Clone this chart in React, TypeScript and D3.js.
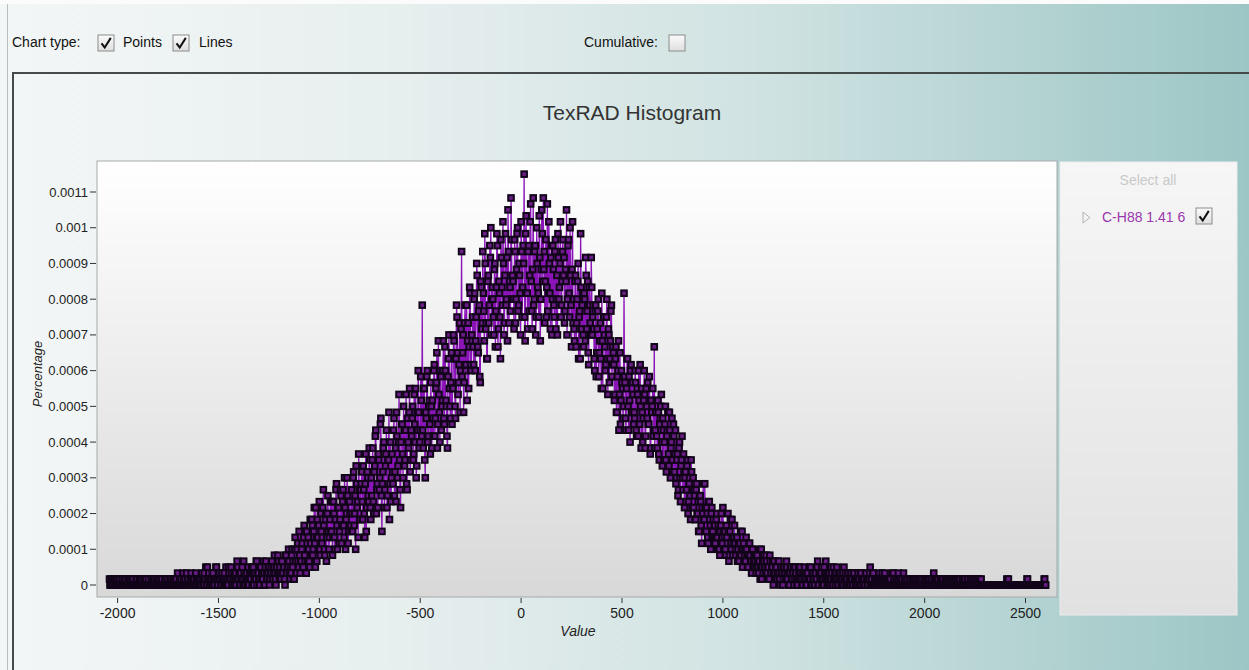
import * as d3 from 'd3';
import React, { useRef, useEffect } from 'react';

const WIDTH = 1249;
const HEIGHT = 670;

// histogram bins: centre of the first bin and spacing, in "Value" units.
// Two interleaved sets of bins: the second one is shifted by half a step.
const BIN_START = -2040;
const BIN_STEP = 5;
// the histogram is stored as counts; percentage = count / TOTAL_COUNT
const TOTAL_COUNT = 60000;

// ---- bins at -2040, -2035, ... ----
// -2040 .. -1545
const countsA = [
  1,0,0,1,0,1,1,0,0,0, 1,0,0,0,0,0,1,0,0,1, 0,0,1,0,0,0,0,1,0,0, 0,1,0,0,0,0,1,0,0,0,
  0,0,0,1,0,0,0,0,1,0, 0,0,1,0,0,1,0,0,0,0, 1,0,0,0,0,1,1,0,0,0, 0,1,0,2,0,1,0,0,1,0,
  0,2,1,0,1,0,0,1,0,1, 1,0,1,0,2,1,0,3,1,0,
];
// -1540 .. -1045
const countsB = [
  0,1,2,1,0,1,3,0,1,2, 1,0,1,1,2,0,0,1,3,1, 1,2,0,1,0,2,1,3,1,0, 2,1,1,4,0,1,2,1,0,2,
  1,3,2,0,2,1,4,2,1,0, 3,2,1,2,0,4,1,2,3,1, 2,4,1,3,2,0,3,5,2,3, 1,4,2,3,0,5,2,3,4,1,
  2,6,4,1,8,2,6,4,9,2, 4,7,3,10,4,2,7,8,4,11,
];
// -1040 .. -545
const countsC = [
  5,10,6,13,3,8,11,6,14,5, 9,8,16,6,11,4,12,9,8,14, 9,5,14,8,11,17,6,13,9,16, 7,14,10,18,6,12,15,9,14,10,
  16,9,19,12,6,17,14,22,11,16, 19,11,16,8,22,13,18,14,21,11, 15,23,12,20,26,16,13,21,18,28, 9,19,24,16,22,13,21,29,17,14,
  22,17,28,19,14,25,20,32,16,24, 27,18,26,21,32,16,24,29,19,26,
];
// -540 .. -45
const countsD = [
  28,21,32,24,18,29,36,23,26,31, 47,23,33,18,28,36,25,31,22,30, 31,25,37,28,34,23,41,29,36,26, 31,41,27,36,30,23,38,33,28,39,
  33,42,38,28,47,39,34,44,36,56, 39,29,44,36,47,41,33,50,37,42, 45,37,49,41,54,40,46,35,51,43, 56,46,59,43,38,51,44,57,60,48,
  48,42,54,46,59,40,51,45,58,50, 61,42,52,47,55,63,44,50,65,48,
];
// -40 .. 455
const countsE = [
  51,43,56,48,59,46,54,49,61,45, 57,69,41,62,49,56,46,61,51,43, 65,48,57,45,54,49,62,41,53,59, 65,56,51,45,64,49,54,43,57,48,
  53,45,58,48,42,55,50,61,47,56, 52,44,53,63,48,58,45,52,40,61, 48,41,52,44,51,38,46,59,43,49, 40,48,55,43,51,37,47,42,50,45,
  43,36,47,39,46,35,41,38,49,33, 45,40,37,48,32,42,38,46,35,40,
];
// 460 .. 955
const countsF = [
  37,32,40,29,36,26,39,31,34,28, 49,34,26,38,30,35,24,37,29,32, 29,36,26,33,25,31,37,23,29,28, 36,23,33,28,27,35,22,31,30,25,
  40,26,31,23,29,21,28,32,20,26, 24,30,19,26,22,29,18,24,21,27, 19,26,18,22,16,24,14,21,18,22, 13,19,16,21,14,18,11,19,16,13,
  15,11,17,12,9,15,14,7,12,11, 17,9,13,8,14,11,6,13,9,8,
];
// 960 .. 1455
const countsG = [
  10,8,12,6,9,5,10,8,13,6, 9,5,8,12,4,9,7,11,5,8, 7,5,8,6,4,7,5,9,6,4, 6,8,5,3,7,5,4,6,3,5,
  4,2,5,3,4,1,6,3,2,4, 3,5,2,3,1,4,2,3,0,4, 2,3,1,4,2,0,3,2,1,3, 2,4,1,2,0,3,1,2,3,1,
  2,1,0,3,1,2,1,0,2,3, 1,0,2,1,1,3,0,2,1,0,
];
// 1460 .. 1955
const countsH = [
  2,1,4,0,2,1,3,1,0,2, 4,1,2,0,1,3,2,0,1,2, 1,3,0,2,1,1,0,2,3,1, 0,1,2,0,1,2,1,0,2,1,
  0,1,2,1,0,2,0,1,1,0, 2,1,0,1,3,1,0,2,0,1, 0,1,0,2,1,0,2,1,0,1, 0,0,1,0,1,0,0,2,1,0,
  1,0,2,0,1,0,0,2,1,0, 0,1,0,0,1,0,1,0,1,0,
];
// 1960 .. 2600
const countsI = [
  1,0,0,1,0,1,0,0,1,0, 0,1,0,0,0,1,0,2,0,1, 0,1,0,0,1,0,1,0,0,1, 0,1,0,1,0,0,1,0,1,0,
  0,1,0,1,0,0,1,0,1,0, 0,1,0,0,1,0,1,0,0,1, 0,1,0,0,1,0,0,0,0,0, 0,0,0,0,0,0,0,0,0,0,
  0,0,0,0,0,0,0,0,0,0, 0,1,0,0,0,0,0,0,0,0, 0,0,0,0,0,0,0,0,0,0, 1,0,0,0,0,0,0,0,0,0,
  0,0,0,0,0,0,0,1,0,
];

// ---- bins at -2037.5, -2032.5, ... ----
// -2037.5 .. -1542.5
const countsA2 = [
  0,1,0,0,1,0,0,1,0,1, 0,0,1,0,1,0,0,0,1,0, 1,0,0,1,0,0,1,0,0,1, 0,0,1,0,1,0,0,0,1,0,
  0,1,0,0,1,0,1,0,0,1, 0,1,0,0,0,1,0,1,0,0, 0,1,0,1,0,0,0,2,0,1, 1,0,0,1,0,0,2,1,0,0,
  1,0,1,0,0,2,1,0,1,0, 0,2,1,0,1,3,0,1,2,1,
];
// -1537.5 .. -1042.5
const countsB2 = [
  1,0,2,0,1,3,1,0,2,1, 0,2,1,0,1,3,1,0,2,1, 3,0,1,2,1,0,4,1,2,0, 1,3,0,2,1,2,0,3,1,1,
  2,0,3,1,2,4,0,2,1,3, 1,2,4,0,3,2,1,3,0,2, 3,1,2,5,1,3,2,4,1,2, 4,2,3,1,5,2,3,6,2,3,
  5,3,1,6,4,2,7,3,5,4, 6,3,8,5,2,9,4,6,3,7,
];
// -1037.5 .. -542.5
const countsC2 = [
  11,5,9,7,13,4,8,10,6,12, 7,13,10,5,12,8,15,6,11,9, 14,8,12,6,16,10,13,7,11,15, 10,16,8,13,11,18,7,14,12,9,
  12,18,10,15,20,13,8,16,11,17, 14,20,12,17,9,19,15,23,13,18, 21,14,19,25,12,17,22,16,27,15, 17,23,13,20,26,15,21,11,24,18,
  19,26,15,23,29,18,24,21,13,27, 22,30,20,26,17,28,23,33,21,25,
];
// -537.5 .. -42.5
const countsD2 = [
  30,22,27,33,20,26,29,24,35,25, 26,33,21,29,35,24,30,27,34,23, 28,36,25,33,39,27,32,24,35,30, 36,28,40,31,25,35,42,30,34,27,
  33,41,30,38,45,32,37,29,43,35, 42,34,47,37,31,44,40,49,36,41, 40,48,36,45,52,39,47,34,50,44, 49,41,54,44,38,52,47,55,42,50,
  45,53,40,50,57,43,49,38,55,47, 54,44,59,48,41,56,51,46,58,52,
];
// -37.5 .. 457.5
const countsE2 = [
  48,58,44,53,60,47,52,42,56,50, 54,45,59,49,43,57,52,64,46,53, 47,56,42,60,50,45,55,48,63,51, 53,44,58,50,46,61,49,55,42,57,
  47,56,43,52,59,48,54,45,51,58, 55,46,51,42,57,49,60,47,53,44, 43,51,40,48,54,45,38,50,47,42, 49,41,52,46,39,50,44,55,42,47,
  38,46,35,43,48,39,44,33,41,45, 42,36,45,38,43,34,41,47,37,39,
];
// 462.5 .. 957.5
const countsF2 = [
  31,38,29,35,41,32,27,36,33,30, 35,28,33,38,26,31,36,29,34,27, 28,34,25,32,36,27,30,33,24,31, 32,25,30,34,27,31,23,29,33,26,
  23,29,25,31,22,27,30,24,28,21, 27,21,25,29,20,26,23,28,19,25, 22,17,21,15,23,18,20,25,16,19, 18,14,20,12,17,15,21,13,18,16,
  11,16,12,14,9,15,10,13,17,11, 13,9,12,7,14,10,12,8,11,10,
];
// 962.5 .. 1457.5
const countsG2 = [
  7,11,8,10,6,9,12,7,9,8, 6,10,7,9,5,11,6,8,7,10, 6,8,4,7,5,9,6,3,7,5, 4,6,3,5,7,4,2,6,4,3,
  5,3,4,2,6,3,1,4,5,3, 2,4,3,1,5,2,3,4,2,1, 3,1,2,4,1,3,2,0,3,2, 1,3,2,0,2,3,1,2,0,3,
  2,0,1,2,3,1,0,2,1,2, 0,2,1,3,1,0,2,1,0,2,
];
// 1462.5 .. 1957.5
const countsH2 = [
  1,3,0,2,1,2,0,1,3,1, 2,0,1,2,0,1,0,3,1,0, 2,1,0,1,2,0,1,0,1,2, 1,0,2,1,0,1,0,2,1,0,
  1,0,1,0,2,1,0,1,0,2, 1,0,1,2,0,1,2,0,1,0, 1,0,1,0,0,1,0,1,2,0, 1,0,0,1,0,2,0,1,0,0,
  0,1,0,1,0,1,0,0,1,0, 1,0,0,1,0,0,1,0,0,1,
];
// 1962.5 .. 2597.5
const countsI2 = [
  0,1,0,0,1,0,0,1,0,1, 0,0,1,0,1,0,0,1,0,0, 1,0,0,1,0,1,0,0,1,0, 1,0,0,0,1,0,0,1,0,1,
  0,0,1,0,0,1,0,1,0,0, 1,0,0,1,0,0,1,0,1,0, 0,0,1,0,0,0,0,0,0,0, 0,0,0,0,0,0,0,0,0,0,
  0,0,0,0,0,0,0,0,0,1, 0,0,0,0,0,0,0,0,0,0, 0,0,0,0,0,0,0,0,0,1, 0,0,0,0,0,0,0,0,0,0,
  0,0,0,0,0,0,1,0,
];

const xTicks = [-2000, -1500, -1000, -500, 0, 500, 1000, 1500, 2000, 2500];
const yTicks = [0, 0.0001, 0.0002, 0.0003, 0.0004, 0.0005, 0.0006, 0.0007, 0.0008, 0.0009, 0.001, 0.0011];
const yTickLabels = ['0', '0.0001', '0.0002', '0.0003', '0.0004', '0.0005', '0.0006', '0.0007', '0.0008', '0.0009', '0.001', '0.0011'];
const seriesName = 'C-H88 1.41 6';

const FONT = '"Liberation Sans", Arial, sans-serif';

function checkbox(g, x, y, size, checked) {
  const b = g.append('g').attr('transform', `translate(${x},${y})`);
  b.append('rect').attr('width', size).attr('height', size)
    .attr('fill', 'url(#boxBg)').attr('stroke', '#8c8c8c').attr('stroke-width', 1);
  if (checked) {
    b.append('path')
      .attr('d', `M${size * 0.22},${size * 0.52} L${size * 0.42},${size * 0.78} L${size * 0.8},${size * 0.18}`)
      .attr('fill', 'none').attr('stroke', '#111').attr('stroke-width', 2);
  }
}

function App() {
  const ref = useRef(null);

  useEffect(() => {
    const counts = [...countsA, ...countsB, ...countsC, ...countsD, ...countsE, ...countsF, ...countsG, ...countsH, ...countsI];
    const counts2 = [...countsA2, ...countsB2, ...countsC2, ...countsD2, ...countsE2, ...countsF2, ...countsG2, ...countsH2, ...countsI2];
    const data = [
      ...counts.map((c, i) => ({ x: BIN_START + i * BIN_STEP, y: c / TOTAL_COUNT })),
      ...counts2.map((c, i) => ({ x: BIN_START + BIN_STEP / 2 + i * BIN_STEP, y: c / TOTAL_COUNT })),
    ].sort((a, b) => a.x - b.x);

    const svg = d3.select(ref.current);
    svg.selectAll('*').remove();
    svg.attr('viewBox', [0, 0, WIDTH, HEIGHT]);

    const defs = svg.append('defs');
    const pageBg = defs.append('linearGradient').attr('id', 'pageBg')
      .attr('x1', 0).attr('x2', 1).attr('y1', 0).attr('y2', 0);
    [['0%', '#f3f6f6'], ['30%', '#e8efef'], ['60%', '#d0e3e2'], ['100%', '#9cc6c5']]
      .forEach(([o, c]) => pageBg.append('stop').attr('offset', o).attr('stop-color', c));
    const plotBg = defs.append('linearGradient').attr('id', 'plotBg')
      .attr('x1', 0).attr('x2', 0).attr('y1', 0).attr('y2', 1);
    [['0%', '#ffffff'], ['100%', '#d8d8d8']]
      .forEach(([o, c]) => plotBg.append('stop').attr('offset', o).attr('stop-color', c));
    const legendBg = defs.append('linearGradient').attr('id', 'legendBg')
      .attr('x1', 0).attr('x2', 0).attr('y1', 0).attr('y2', 1);
    [['0%', '#f6f6f6'], ['100%', '#e1e1e1']]
      .forEach(([o, c]) => legendBg.append('stop').attr('offset', o).attr('stop-color', c));
    const boxBg = defs.append('linearGradient').attr('id', 'boxBg')
      .attr('x1', 0).attr('x2', 0).attr('y1', 0).attr('y2', 1);
    [['0%', '#fbfbfb'], ['100%', '#dedede']]
      .forEach(([o, c]) => boxBg.append('stop').attr('offset', o).attr('stop-color', c));

    // page and frame
    svg.append('rect').attr('width', WIDTH).attr('height', HEIGHT).attr('fill', 'url(#pageBg)');
    svg.append('rect').attr('width', WIDTH).attr('height', 4).attr('fill', '#fbfbfb');
    svg.append('line').attr('x1', 7.5).attr('x2', 7.5).attr('y1', 4).attr('y2', HEIGHT)
      .attr('stroke', '#b9bdbd').attr('stroke-width', 1);
    svg.append('path').attr('d', `M13,${HEIGHT} V73 H${WIDTH}`)
      .attr('fill', 'none').attr('stroke', '#454b4b').attr('stroke-width', 2);

    // toolbar
    const bar = svg.append('g').attr('font-family', FONT).attr('font-size', 14).attr('fill', '#111');
    bar.append('text').attr('x', 12).attr('y', 47).text('Chart type:');
    checkbox(bar, 98, 35, 16, true);
    bar.append('text').attr('x', 123).attr('y', 47).text('Points');
    checkbox(bar, 173, 35, 16, true);
    bar.append('text').attr('x', 199).attr('y', 47).text('Lines');
    bar.append('text').attr('x', 584).attr('y', 47).text('Cumulative:');
    checkbox(bar, 669, 35, 16, false);

    // title
    svg.append('text').attr('x', 632).attr('y', 120).attr('text-anchor', 'middle')
      .attr('font-family', FONT).attr('font-size', 21).attr('fill', '#333').text('TexRAD Histogram');

    const plot = { left: 97, right: 1057, top: 161, bottom: 597 };
    const x = d3.scaleLinear().domain([-2102, 2656]).range([plot.left, plot.right]);
    const y = d3.scaleLinear().domain([0, 0.0011]).range([585, 192]);

    svg.append('rect').attr('x', plot.left).attr('y', plot.top)
      .attr('width', plot.right - plot.left).attr('height', plot.bottom - plot.top)
      .attr('fill', 'url(#plotBg)').attr('stroke', '#a7a9a9').attr('stroke-width', 1);

    // y axis
    const yAxis = svg.append('g').attr('font-family', FONT).attr('font-size', 13).attr('fill', '#222');
    yTicks.forEach((t, i) => {
      yAxis.append('line').attr('x1', 90).attr('x2', 96).attr('y1', y(t)).attr('y2', y(t))
        .attr('stroke', '#333').attr('stroke-width', 1);
      yAxis.append('text').attr('x', 88).attr('y', y(t)).attr('dy', '0.35em')
        .attr('text-anchor', 'end').text(yTickLabels[i]);
    });
    svg.append('text').attr('transform', 'translate(42,374) rotate(-90)')
      .attr('text-anchor', 'middle').attr('font-family', FONT).attr('font-size', 13)
      .attr('font-style', 'italic').attr('fill', '#222').text('Percentage');

    // x axis
    const xAxis = svg.append('g').attr('font-family', FONT).attr('font-size', 14).attr('fill', '#222');
    xTicks.forEach(t => {
      xAxis.append('line').attr('x1', x(t)).attr('x2', x(t)).attr('y1', plot.bottom + 1).attr('y2', plot.bottom + 6)
        .attr('stroke', '#333').attr('stroke-width', 1);
      xAxis.append('text').attr('x', x(t)).attr('y', 618).attr('text-anchor', 'middle').text(String(t));
    });
    svg.append('text').attr('x', 578).attr('y', 636).attr('text-anchor', 'middle')
      .attr('font-family', FONT).attr('font-size', 14).attr('font-style', 'italic')
      .attr('fill', '#222').text('Value');

    // series: lines then points
    const line = d3.line().x(d => x(d.x)).y(d => y(d.y));
    svg.append('path').datum(data).attr('d', line)
      .attr('fill', 'none').attr('stroke', '#8a14b8').attr('stroke-width', 1.3)
      .attr('stroke-linejoin', 'round');

    const sq = 5.6;
    svg.append('g')
      .attr('fill', '#6a1d86').attr('stroke', '#12051a').attr('stroke-width', 2)
      .selectAll('rect')
      .data(data)
      .join('rect')
      .attr('x', d => x(d.x) - sq / 2)
      .attr('y', d => y(d.y) - sq / 2)
      .attr('width', sq)
      .attr('height', sq);

    // legend panel
    const legend = svg.append('g').attr('font-family', FONT).attr('font-size', 14);
    legend.append('rect').attr('x', 1060).attr('y', 162).attr('width', 177).attr('height', 453)
      .attr('fill', 'url(#legendBg)').attr('stroke', '#ebebeb').attr('stroke-width', 1);
    legend.append('text').attr('x', 1148).attr('y', 185).attr('text-anchor', 'middle')
      .attr('fill', '#c9c9c9').text('Select all');
    legend.append('path').attr('d', 'M1083,212 L1090,217.5 L1083,223 Z')
      .attr('fill', 'none').attr('stroke', '#b3b3b3').attr('stroke-width', 1);
    legend.append('text').attr('x', 1102).attr('y', 222).attr('fill', '#9a37ad').text(seriesName);
    checkbox(legend, 1196, 208, 16, true);
  }, []);

  return (
    <div>
      <svg ref={ref} width={WIDTH} height={HEIGHT} style={{ position: 'absolute', left: 0, top: 0 }} />
    </div>
  );
}

export default App;
